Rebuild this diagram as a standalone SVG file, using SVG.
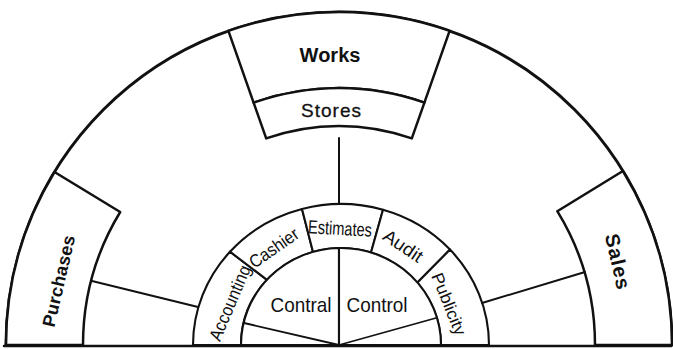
<svg xmlns="http://www.w3.org/2000/svg" width="673" height="349" viewBox="0 0 673 349">
<defs>
<style>
.ln{fill:none;stroke:#111;stroke-linejoin:round;stroke-linecap:round}
.box{fill:#fff;stroke:#111;stroke-width:2.5;stroke-linejoin:round}
.seg{fill:#fff;stroke:#111;stroke-width:2.1;stroke-linejoin:round}
.t{font-family:"Liberation Sans",Arial,sans-serif;fill:#111;text-anchor:middle}
.b{font-weight:bold}
</style>
</defs>
<rect width="673" height="349" fill="#fff"/>
<g id="frame">
<path class="ln" style="stroke-width:3" d="M6 345 A333 333 0 0 1 672 345"/>
<path class="ln" style="stroke-width:2.5" d="M4 346 L671 346"/>
</g>
<g id="works">
<path class="box" d="M228.4 30.9 A333 333 0 0 1 449.6 30.9 L424.4 102.6 A257 257 0 0 0 253.6 102.6 Z"/>
<text class="t b" x="330" y="62" font-size="20">Works</text>
</g>
<g id="stores">
<path class="box" d="M253.6 102.6 A257 257 0 0 1 424.4 102.6 L411.8 138.4 A219 219 0 0 0 266.2 138.4 Z"/>
<text class="t" x="331" y="117" font-size="19" textLength="60" lengthAdjust="spacing" style="stroke:#111;stroke-width:0.3">Stores</text>
</g>
<g id="purchases">
<path class="box" d="M6 345 A333 333 0 0 1 54.5 172 L120.2 212 A256 256 0 0 0 83 345 Z"/>
<text class="t b" transform="translate(59 281) rotate(-77)" x="0" y="6" font-size="18" letter-spacing="0.3">Purchases</text>
</g>
<g id="sales">
<path class="box" d="M672 345 A333 333 0 0 0 622.9 171 L557.3 211.2 A256 256 0 0 1 595 345 Z"/>
<text class="t b" transform="translate(617 262) rotate(77)" x="0" y="6" font-size="20" letter-spacing="1">Sales</text>
</g>
<g id="accounting">
<path class="seg" d="M193 345 A148 141 0 0 1 230 251.7 L267 279.8 A100 97 0 0 0 241 345 Z"/>
<text class="t" transform="translate(230 303) rotate(-67)" x="0" y="6" font-size="18" textLength="80" lengthAdjust="spacingAndGlyphs">Accounting</text>
</g>
<g id="cashier">
<path class="seg" d="M230 251.7 A148 141 0 0 1 302 209 L313 252 A100 97 0 0 0 267 279.8 Z"/>
<text class="t" transform="translate(274 248) rotate(-35)" x="0" y="6" font-size="18" textLength="56" lengthAdjust="spacingAndGlyphs">Cashier</text>
</g>
<g id="estimates">
<path class="seg" d="M302 209 A148 141 0 0 1 383 209.8 L371 252.5 A100 97 0 0 0 313 252 Z"/>
<text class="t" transform="rotate(3 340 228)" x="340" y="235" font-size="19" textLength="64" lengthAdjust="spacingAndGlyphs">Estimates</text>
</g>
<g id="audit">
<path class="seg" d="M383 209.8 A148 141 0 0 1 450 249.6 L417 283 A100 97 0 0 0 371 252.5 Z"/>
<text class="t" transform="translate(403 246) rotate(34)" x="0" y="6" font-size="18" textLength="44" lengthAdjust="spacingAndGlyphs">Audit</text>
</g>
<g id="publicity">
<path class="seg" d="M450 249.6 A148 141 0 0 1 489 345 L441 345 A100 97 0 0 0 417 283 Z"/>
<text class="t" transform="translate(449 304) rotate(68)" x="0" y="6" font-size="17" textLength="66" lengthAdjust="spacingAndGlyphs">Publicity</text>
</g>
<g id="contral">
<path class="seg" d="M241 345 A100 97 0 0 1 339 248 L339 345 Z"/>
<text class="t" x="301" y="312" font-size="21" textLength="61" lengthAdjust="spacingAndGlyphs">Contral</text>
</g>
<g id="control">
<path class="seg" d="M339 248 A100 97 0 0 1 441 345 L339 345 Z"/>
<text class="t" x="377" y="312" font-size="21" textLength="61" lengthAdjust="spacingAndGlyphs">Control</text>
</g>
<g id="connectors">
<path class="ln" style="stroke-width:2" d="M339 138 L339 204"/>
<path class="ln" style="stroke-width:2" d="M92 281 L198 307"/>
<path class="ln" style="stroke-width:2" d="M482 303 L585 272"/>
<path class="ln" style="stroke-width:1.8" d="M244 323 L339 345"/>
<path class="ln" style="stroke-width:1.8" d="M436 318 L339 345"/>
</g>
</svg>
